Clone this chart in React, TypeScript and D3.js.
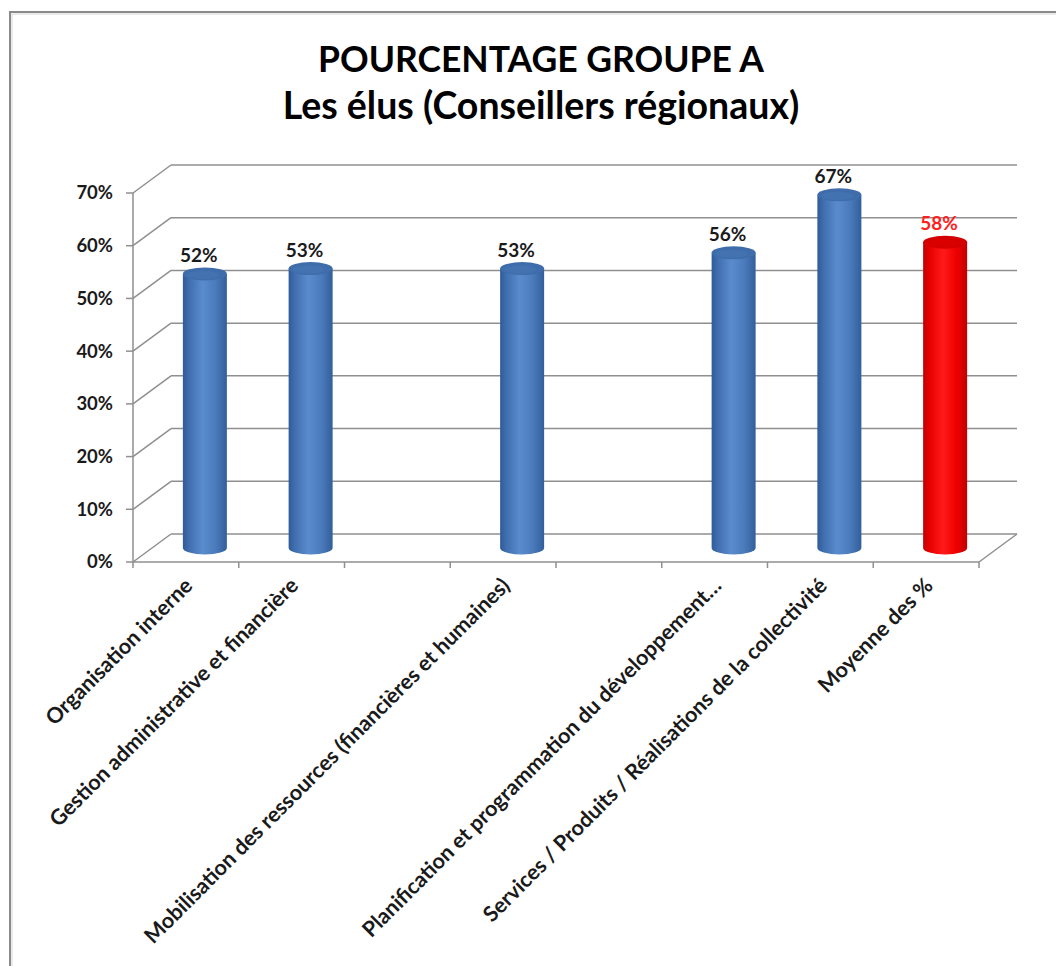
import React from "react";
import * as d3 from "d3";

const TITLE_LINES = ["POURCENTAGE GROUPE A", "Les élus (Conseillers régionaux)"];
const TITLE_SIZES = [35.5, 37.5];
const CATEGORIES = [
  "Organisation interne",
  "Gestion administrative et financière",
  "",
  "Mobilisation des ressources (financières et humaines)",
  "",
  "Planification et programmation du développement…",
  "Services / Produits / Réalisations de la collectivité",
  "Moyenne des %",
];
const VALUES: (number | null)[] = [0.52, 0.53, null, 0.53, null, 0.56, 0.67, 0.58];
const HIGHLIGHT = [false, false, false, false, false, false, false, true];
const Y_TICKS = [0, 0.1, 0.2, 0.3, 0.4, 0.5, 0.6, 0.7];

const W = 1056;
const H = 966;
const FONT = "Lato, 'Open Sans', sans-serif";

export default function App() {
  const x = d3.scaleBand<number>().domain(CATEGORIES.map((_, i) => i)).range([133, 979]).padding(0);
  const y = d3.scaleLinear().domain([0, 0.7]).range([562, 193]);
  const DX = 38;
  const DY = -28;
  const pct = d3.format(".0%");
  const grid = "#8f8f8f";
  const rx = 22;
  const ry = 6.5;

  const bars = CATEGORIES.map((c, i) => ({ c, i, v: VALUES[i], hi: HIGHLIGHT[i] })).filter((d) => d.v != null);

  return (
    <svg width={W} height={H} style={{ position: "absolute", left: 0, top: 0, background: "#fff" }}>
      <defs>
        <linearGradient id="blueG" x1="0" x2="1" y1="0" y2="0">
          <stop offset="0" stopColor="#2f5c98" />
          <stop offset="0.15" stopColor="#416fb0" />
          <stop offset="0.45" stopColor="#5a8ccc" />
          <stop offset="0.75" stopColor="#4a7abb" />
          <stop offset="1" stopColor="#335f9b" />
        </linearGradient>
        <linearGradient id="redG" x1="0" x2="1" y1="0" y2="0">
          <stop offset="0" stopColor="#c00000" />
          <stop offset="0.15" stopColor="#e80000" />
          <stop offset="0.45" stopColor="#ff1a1a" />
          <stop offset="0.75" stopColor="#f00000" />
          <stop offset="1" stopColor="#c20000" />
        </linearGradient>
      </defs>
      <rect x={0} y={0} width={W} height={H} fill="#fff" />
      {/* chart border */}
      <path d={`M10,${H} L10,12 L${W},12`} fill="none" stroke="#8a8a8a" strokeWidth={2} />
      <path d={`M12,${H} L12,14 L${W},14`} fill="none" stroke="#e4e4e4" strokeWidth={1.5} />

      {/* title */}
      {TITLE_LINES.map((t, i) => (
        <text key={i} x={541} y={72 + i * 47} textAnchor="middle" fontFamily={FONT} fontWeight="bold" fontSize={TITLE_SIZES[i]} fill="#000">
          {t}
        </text>
      ))}

      {/* walls gridlines */}
      {Y_TICKS.map((t) => (
        <g key={t}>
          <line x1={133} y1={y(t)} x2={133 + DX} y2={y(t) + DY} stroke={grid} strokeWidth={1.5} />
          <line x1={133 + DX} y1={y(t) + DY} x2={979 + DX} y2={y(t) + DY} stroke={grid} strokeWidth={1.5} />
          <line x1={126} y1={y(t)} x2={133} y2={y(t)} stroke={grid} strokeWidth={1.5} />
          <text x={113} y={y(t)} dy="0.35em" textAnchor="end" fontFamily={FONT} fontWeight="bold" fontSize={18.5} fill="#1a1a1a">
            {pct(t)}
          </text>
        </g>
      ))}
      {/* floor right edge */}
      <line x1={979} y1={y(0)} x2={979 + DX} y2={y(0) + DY} stroke={grid} strokeWidth={1.5} />
      {/* y axis line */}
      <line x1={133} y1={y(0.7)} x2={133} y2={y(0)} stroke={grid} strokeWidth={1.5} />
      {/* x axis line and ticks */}
      <line x1={133} y1={y(0)} x2={979} y2={y(0)} stroke={grid} strokeWidth={1.5} />
      {d3.range(CATEGORIES.length + 1).map((k) => {
        const xx = 133 + k * x.bandwidth();
        return <line key={k} x1={xx} y1={y(0)} x2={xx} y2={y(0) + 6} stroke={grid} strokeWidth={1.5} />;
      })}

      {/* bars */}
      {bars.map((d) => {
        const cx = (x(d.i) as number) + x.bandwidth() / 2 + DX / 2;
        const yb = y(0) + DY / 2;
        const yt = y(d.v as number) + DY / 2;
        const body = `M${cx - rx},${yt} L${cx - rx},${yb} A${rx},${ry} 0 0 0 ${cx + rx},${yb} L${cx + rx},${yt} Z`;
        return (
          <g key={d.i}>
            <path d={body} fill={d.hi ? "url(#redG)" : "url(#blueG)"} />
            <ellipse cx={cx} cy={yt} rx={rx} ry={ry} fill={d.hi ? "#d40000" : "#3f6dab"} />
            <ellipse cx={cx - 2} cy={yt + 1} rx={rx - 6} ry={ry - 2.5} fill={d.hi ? "#e00000" : "#4676b5"} opacity={0.6} />
            <text x={cx - 6} y={yt - 12} textAnchor="middle" fontFamily={FONT} fontWeight="bold" fontSize={19} fill={d.hi ? "#ff2020" : "#1a1a1a"}>
              {pct(d.v as number)}
            </text>
          </g>
        );
      })}

      {/* category labels */}
      {CATEGORIES.map((c, i) =>
        c ? (
          <text
            key={i}
            transform={`translate(${(x(i) as number) + x.bandwidth() / 2 + 8},${587}) rotate(-45)`}
            textAnchor="end"
            fontFamily={FONT}
            fontWeight="bold"
            fontSize={21.5}
            fill="#1a1a1a"
          >
            {c}
          </text>
        ) : null
      )}
    </svg>
  );
}
